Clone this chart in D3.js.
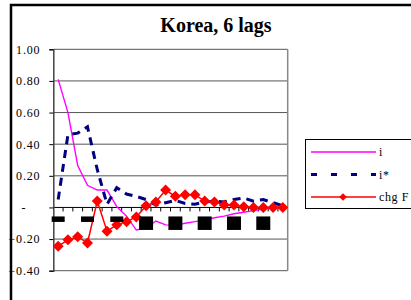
<html><head>
<meta charset="UTF-8">
<title>Korea, 6 lags</title>
<script src="https://cdnjs.cloudflare.com/ajax/libs/d3/7.8.5/d3.min.js"></script>
<style>
    body { margin: 0; padding: 0; background: #fff; }
    svg text { font-family: "Liberation Serif", "DejaVu Serif", serif; fill: #000; }
</style>
</head>
<body>
<svg id="chart" width="411" height="300"></svg>
<script>
    // lag categories
    var categories = ['1','2','3','4','5','6','7','8','9','10','11','12',
                      '13','14','15','16','17','18','19','20','21','22','23','24'];
    // series values
    var seriesI     = [0.81, 0.60, 0.265, 0.14, 0.11, 0.11, 0.005, -0.055, -0.143, -0.13, -0.086, -0.11,
                       -0.112, -0.10, -0.09, -0.08, -0.065, -0.055, -0.04, -0.03, -0.02, -0.01, 0.0, 0.0];
    var seriesIStar = [0.05, 0.46, 0.47, 0.51, 0.24, 0.02, 0.125, 0.085, 0.07, 0.05, 0.015, 0.03,
                       0.045, 0.025, 0.02, 0.035, 0.04, 0.035, 0.05, 0.06, 0.04, 0.05, 0.03, 0.01];
    var seriesChgF  = [-0.245, -0.205, -0.185, -0.225, 0.04, -0.15, -0.11, -0.09, -0.06, 0.01, 0.035, 0.11,
                       0.07, 0.08, 0.08, 0.04, 0.035, 0.015, 0.015, 0.005, 0.0, 0.0, 0.0, 0.0];
    var yTicks = [1.0, 0.8, 0.6, 0.4, 0.2, 0, -0.2, -0.4];
    var xLabels = ['1','4','7','10','13','16','19','22'];
    var seriesNames = ['i', 'i*', 'chg F'];

    var svg = d3.select('#chart');
    var plotL = 53.3, plotR = 287.7, plotT = 49.3, plotB = 270.7;

    var x = d3.scaleBand().domain(categories).range([plotL, plotR]);
    var y = d3.scaleLinear().domain([-0.4, 1.0]).range([plotB, plotT]);
    var cx = function(d, i) { return x(categories[i]) + x.bandwidth() / 2; };

    // outer chart frame (runs off the right and bottom)
    svg.append('path')
        .attr('d', 'M11,310 L11,5 L420,5')
        .attr('fill', 'none')
        .attr('stroke', '#000')
        .attr('stroke-width', 2.5);

    // title
    svg.append('text')
        .attr('x', 216).attr('y', 31.5)
        .attr('text-anchor', 'middle')
        .style('font-size', '20px')
        .style('font-weight', 'bold')
        .text('Korea, 6 lags');

    // gridlines
    svg.append('g').selectAll('line')
        .data(yTicks)
        .enter().append('line')
        .attr('x1', plotL).attr('x2', plotR)
        .attr('y1', d => y(d)).attr('y2', d => y(d))
        .attr('stroke', d => d === 0 ? '#000' : '#555')
        .attr('stroke-width', 1);

    // right border of plot area
    svg.append('line')
        .attr('x1', plotR).attr('x2', plotR)
        .attr('y1', plotT).attr('y2', plotB)
        .attr('stroke', '#888').attr('stroke-width', 1.5);

    // y axis
    var yAxis = d3.axisLeft(y)
        .tickValues(yTicks)
        .tickSize(4)
        .tickPadding(9)
        .tickFormat(d => d === 0 ? '-' : d3.format('.2f')(d));
    var yg = svg.append('g')
        .attr('transform', 'translate(' + plotL + ',0)')
        .call(yAxis);
    yg.select('.domain').attr('stroke', '#444').attr('stroke-width', 1.5);
    yg.selectAll('.tick line').attr('stroke', '#000');
    yg.selectAll('.tick text')
        .attr('dx', d => d === 0 ? -14 : 0)
        .style('font-size', '12px')
        .style('letter-spacing', '0.8px')
        .style('font-family', '"Liberation Serif", serif');

    // x axis at zero with ticks at category boundaries
    svg.append('g').selectAll('line')
        .data(categories.slice(1))
        .enter().append('line')
        .attr('x1', d => x(d)).attr('x2', d => x(d))
        .attr('y1', y(0)).attr('y2', y(0) + 4)
        .attr('stroke', '#000');

    var lineGen = d3.line().x(cx).y(d => y(d));

    // series i
    svg.append('path')
        .datum(seriesI)
        .attr('d', lineGen)
        .attr('fill', 'none')
        .attr('stroke', '#ff00ff')
        .attr('stroke-width', 1.4);

    // series i*
    svg.append('path')
        .datum(seriesIStar)
        .attr('d', lineGen)
        .attr('fill', 'none')
        .attr('stroke', '#000080')
        .attr('stroke-width', 3)
        .attr('stroke-dasharray', '8,6');

    // series chg F
    svg.append('path')
        .datum(seriesChgF)
        .attr('d', lineGen)
        .attr('fill', 'none')
        .attr('stroke', '#ff0000')
        .attr('stroke-width', 1.5);

    var diamond = function(r) { return 'M0,' + (-r) + 'L' + r + ',0L0,' + r + 'L' + (-r) + ',0Z'; };
    svg.append('g').selectAll('path')
        .data(seriesChgF)
        .enter().append('path')
        .attr('d', diamond(5.5))
        .attr('transform', (d, i) => 'translate(' + cx(d, i) + ',' + y(d) + ')')
        .attr('fill', '#ff0000');

    // category labels (rendered as solid blocks in the source picture)
    svg.append('g').selectAll('rect')
        .data(xLabels)
        .enter().append('rect')
        .attr('x', d => x(d) + x.bandwidth() / 2 - (d.length > 1 ? 7 : 6.5))
        .attr('y', y(0) + 9)
        .attr('width', d => d.length > 1 ? 14 : 13)
        .attr('height', d => d.length > 1 ? 13.5 : 5.5)
        .attr('fill', '#000');

    // legend
    var lg = svg.append('g').attr('transform', 'translate(305,139)');
    lg.append('rect')
        .attr('x', 0.5).attr('y', 0.5)
        .attr('width', 120).attr('height', 69)
        .attr('fill', '#fff')
        .attr('stroke', '#000');
    var rows = lg.selectAll('g.row')
        .data(seriesNames)
        .enter().append('g')
        .attr('class', 'row')
        .attr('transform', (d, i) => 'translate(0,' + (13 + i * 22.5) + ')');
    rows.append('line')
        .attr('x1', 6).attr('x2', 71)
        .attr('stroke', (d, i) => ['#ff00ff', '#000080', '#ff0000'][i])
        .attr('stroke-width', (d, i) => [1.4, 3, 1.5][i])
        .attr('stroke-dasharray', (d, i) => i === 1 ? '6,14' : null);
    rows.filter((d, i) => i === 2).append('path')
        .attr('d', diamond(3.8))
        .attr('transform', 'translate(38,0)')
        .attr('fill', '#ff0000');
    rows.append('text')
        .attr('x', 74).attr('y', 4)
        .style('font-size', '12px')
        .style('letter-spacing', '0.6px')
        .text(d => d);
</script>
</body>
</html>
